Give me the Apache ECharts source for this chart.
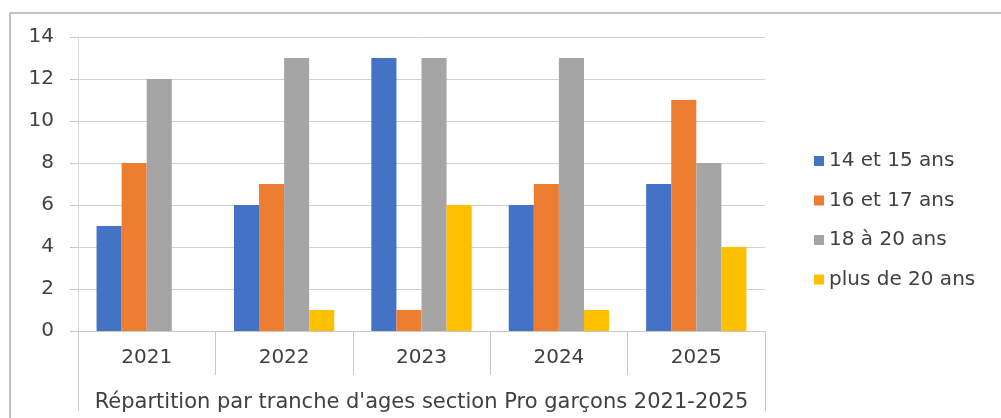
<!DOCTYPE html>
<html><head><meta charset="utf-8">
<script src="https://cdn.jsdelivr.net/npm/echarts@6/dist/echarts.min.js"></script>
<style>html,body{margin:0;padding:0;background:#fff}#c{width:1001px;height:418px}</style>
</head><body><div id="c"></div>
<script>
const categories = ['2021','2022','2023','2024','2025'];
const groupTitle = ["Répartition par tranche d'ages section Pro garçons 2021-2025"];
const seriesNames = ['14 et 15 ans','16 et 17 ans','18 à 20 ans','plus de 20 ans'];
const s14_15 = [5, 6, 13, 6, 7];
const s16_17 = [8, 7, 1, 7, 11];
const s18_20 = [12, 13, 13, 13, 8];
const sPlus20 = [0, 1, 6, 1, 4];
const colors = ['#4472C4','#ED7D31','#A5A5A5','#FFC000'];
const FONT = 'DejaVu Sans';
const chart = echarts.init(document.getElementById('c'));
const values = [s14_15, s16_17, s18_20, sPlus20];
chart.setOption({
  animation: false,
  textStyle: { fontFamily: FONT },
  graphic: [{ type: 'rect', shape: { x: 10, y: 13, width: 1100, height: 500 }, style: { fill: 'none', stroke: '#b0b0b0', lineWidth: 1.5 }, silent: true }],
  grid: { left: 78, right: 236, top: 37, bottom: 87 },
  legend: {
    orient: 'vertical', left: 809, top: 146, itemWidth: 10, itemHeight: 10, itemGap: 19.5,
    icon: 'rect', data: seriesNames,
    textStyle: { fontFamily: FONT, fontSize: 20, color: '#404040', lineHeight: 20 }
  },
  xAxis: [{
    type: 'category', data: categories, gridIndex: 0,
    axisLine: { lineStyle: { color: '#c8c8c8' } },
    axisTick: { show: true, length: 44, interval: 0, lineStyle: { color: '#c8c8c8' } },
    axisLabel: { fontSize: 20, color: '#404040', margin: 17, fontFamily: FONT }
  }, {
    type: 'category', data: groupTitle, gridIndex: 0, position: 'bottom', offset: 44,
    axisLine: { show: false },
    axisTick: { show: true, length: 36, interval: 0, lineStyle: { color: '#c8c8c8' } },
    axisLabel: { fontSize: 21, color: '#404040', margin: 17, fontFamily: FONT }
  }],
  yAxis: {
    type: 'value', min: 0, max: 14, interval: 2,
    axisLine: { show: true, lineStyle: { color: '#d9d9d9' } },
    axisTick: { show: true, length: 8, lineStyle: { color: '#c8c8c8' } },
    axisLabel: { fontSize: 20, color: '#404040', margin: 24, fontFamily: FONT },
    splitLine: { lineStyle: { color: '#d0d0d0' } }
  },
  series: seriesNames.map((n, i) => ({
    name: n, type: 'bar', xAxisIndex: 0, data: values[i],
    barGap: '0%', barCategoryGap: '27%',
    itemStyle: { color: colors[i] }
  }))
});
</script></body></html>
